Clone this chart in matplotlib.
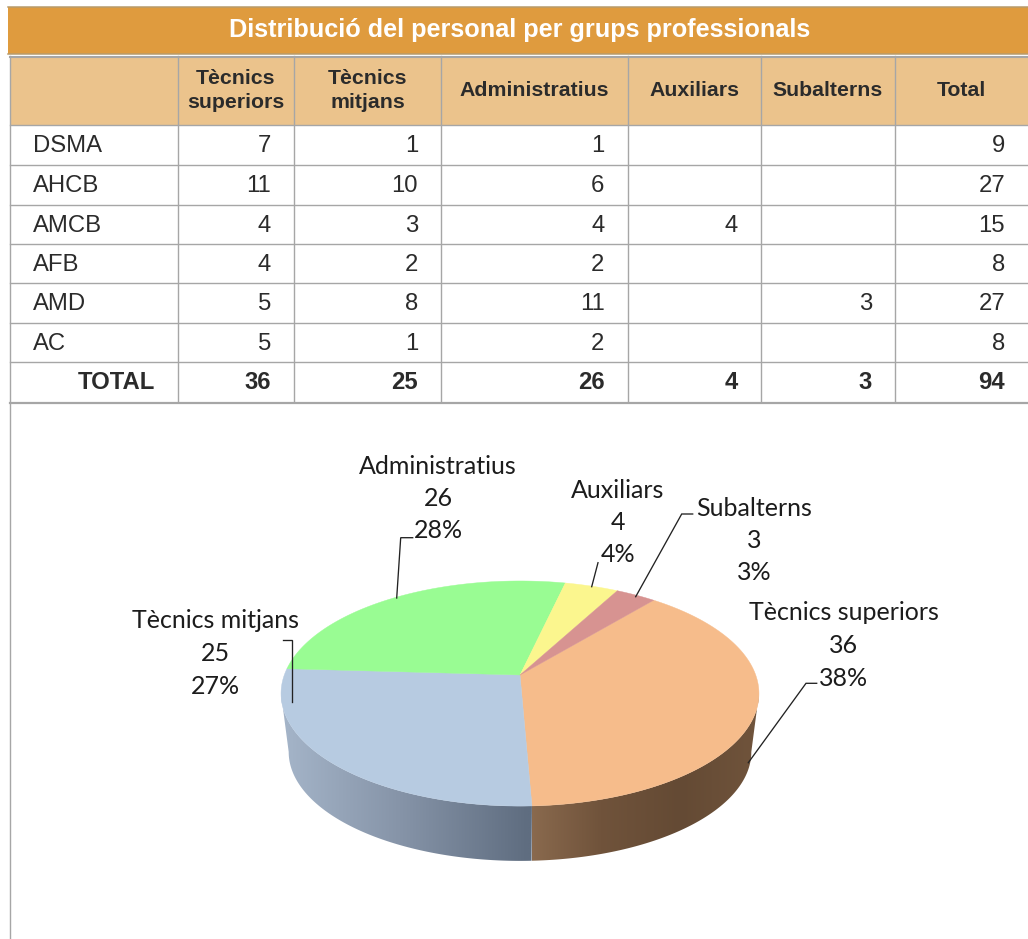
#!/usr/bin/env python3
import numpy as np
import matplotlib
matplotlib.use('Agg')
import matplotlib.pyplot as plt
from matplotlib.patches import Polygon

plt.rcParams['font.family'] = ['Liberation Sans', 'DejaVu Sans']

# table data
title = 'Distribució del personal per grups professionals'
headers = ['Tècnics\nsuperiors', 'Tècnics\nmitjans', 'Administratius', 'Auxiliars', 'Subalterns', 'Total']
row_names = ['DSMA', 'AHCB', 'AMCB', 'AFB', 'AMD', 'AC']
tec_sup = [7, 11, 4, 4, 5, 5]
tec_mit = [1, 10, 3, 2, 8, 1]
admin = [1, 6, 4, 2, 11, 2]
auxil = [None, None, 4, None, None, None]
subal = [None, None, None, None, 3, None]
total_col = [9, 27, 15, 8, 27, 8]
total_row = [36, 25, 26, 4, 3, 94]

# pie data, clockwise from the start angle
pie_names = ['Tècnics superiors', 'Tècnics mitjans', 'Administratius', 'Auxiliars', 'Subalterns']
pie_values = [36, 25, 26, 4, 3]
pie_colors = ['#f6bc8b', '#b7cbe1', '#99fc93', '#fbf68e', '#d79391']

# layout, in pixels of the 1028x939 image
col_x = [10, 178, 294, 441, 627.5, 761, 895, 1028]
row_y = [125, 165, 204.5, 244, 283, 323, 362, 402]
grid = '#a6a6a6'
ink = '#2b2b2b'

fig = plt.figure(figsize=(10.28, 9.39), dpi=100)
ax = fig.add_axes([0, 0, 1, 1])
ax.set_xlim(0, 1028)
ax.set_ylim(939, 0)
ax.axis('off')

# title and header bands
ax.fill_between([8, 1028], 7, 54, color='#df9b3e', lw=0)
ax.plot([8, 1028], [7, 7], color='#b89b6b', lw=1.1)
ax.plot([8, 1028], [54, 54], color='#b89b6b', lw=1.1)
ax.fill_between([10, 1028], 56, 125, color='#ebc38c', lw=0)
ax.text(519.5, 29.5, title, color='white', fontsize=18.2, fontweight='bold', ha='center', va='center')

# grid lines
ax.plot([10, 1028], [56.5, 56.5], color=grid, lw=1.5)
for y in row_y[:-1]:
    ax.plot([10, 1028], [y, y], color=grid, lw=1.0)
ax.plot([10, 1028], [402.5, 402.5], color=grid, lw=1.6)
ax.plot([9.7, 9.7], [56, 939], color=grid, lw=1.0)
for x in col_x[1:-1]:
    ax.plot([x, x], [56, 402], color=grid, lw=1.0)

# table text
for i, h in enumerate(headers):
    ax.text((col_x[i + 1] + col_x[i + 2]) / 2, 90.5, h, color=ink, fontsize=15.3, fontweight='bold',
            ha='center', va='center', linespacing=1.36)

columns = [tec_sup, tec_mit, admin, auxil, subal, total_col]
for r, name in enumerate(row_names):
    yc = (row_y[r] + row_y[r + 1]) / 2 - 1.2
    ax.text(33, yc, name, color=ink, fontsize=17.2, ha='left', va='center_baseline')
    for c, col in enumerate(columns):
        if col[r] is not None:
            ax.text(col_x[c + 2] - 23, yc, str(col[r]), color=ink, fontsize=17.2, ha='right', va='center_baseline')

yc = (row_y[-2] + row_y[-1]) / 2 - 1.7
ax.text(155, yc, 'TOTAL', color=ink, fontsize=17.2, fontweight='bold', ha='right', va='center_baseline')
for c, v in enumerate(total_row):
    ax.text(col_x[c + 2] - 23, yc, str(v), color=ink, fontsize=17.2, fontweight='bold', ha='right', va='center_baseline')

# pie in perspective: the circle goes through a small projective squash
cx, cy = 520, 675
sx, sy = 235.7, 109.5
k = 0.1646
start = 50.3
wall_scale = 0.968
wall_drop = 59


def project(t, s=1.0, dy=0.0):
    a = np.radians(t)
    w = 1 + k * np.sin(a)
    return cx + s * sx * np.cos(a) / w, cy - s * sy * np.sin(a) / w + dy


total = sum(pie_values)
edges = start - np.concatenate([[0], np.cumsum(pie_values)]) * 360 / total
# the ellipse is widest here, so the wall outline ends on these angles
widest = np.degrees(np.arcsin(k))


# side wall, a horizontal gradient clipped to the wall outline
def wall(t0, t1, stops_x, stops_rgb):
    ts = np.linspace(t0, t1, 200)
    xt, yt = project(ts)
    xb, yb = project(ts[::-1], wall_scale, wall_drop)
    outline = Polygon(np.c_[np.r_[xt, xb], np.r_[yt, yb]], closed=True, facecolor='none', edgecolor='none',
                      transform=ax.transData)
    ax.add_patch(outline)
    x0, x1 = min(xt.min(), xb.min()), max(xt.max(), xb.max())
    y0, y1 = min(yt.min(), yb.min()), max(yt.max(), yb.max())
    xs = np.linspace(x0, x1, 256)
    grad = np.stack([np.interp(xs, stops_x, [s[i] for s in stops_rgb]) / 255 for i in range(3)], axis=-1)
    im = ax.imshow(grad[np.newaxis, :, :], extent=[x0, x1, y1, y0], aspect='auto', interpolation='bilinear')
    im.set_clip_path(outline)


wall(-widest, edges[1], [530, 600, 680, 750],
     [(138, 106, 78), (112, 83, 59), (100, 74, 52), (111, 83, 59)])
wall(edges[1], -180 + widest, [285, 400, 528],
     [(164, 180, 200), (134, 148, 168), (95, 109, 128)])
ax.set_xlim(0, 1028)
ax.set_ylim(939, 0)

# top face
for i, color in enumerate(pie_colors):
    ts = np.linspace(edges[i], edges[i + 1], 200)
    xs, ys = project(ts)
    ax.fill(np.r_[cx, xs], np.r_[cy, ys], color=color, lw=0.3, zorder=2)

# labels
label_pos = [(844, 645.5), (215, 653.5), (438, 498.5), (618, 522.5), (754, 540.5)]
for name, v, (lx, ly) in zip(pie_names, pie_values, label_pos):
    pct = round(100 * v / total)
    ax.text(lx, ly, f'{name}\n{v}\n{pct}%', family=['Lato', 'DejaVu Sans'], fontsize=18, color='#1c1c1c',
            ha='center', va='center', linespacing=1.5, multialignment='center', zorder=4)

# leader lines
leaders = [
    ([748.3, 806, 816.7], [762.7, 683.3, 683.3]),
    ([292.3, 292.3, 282.7], [701.7, 640, 640]),
    ([396.7, 400.7, 412.7], [598, 537.7, 537.7]),
    ([591.7, 598], [586.7, 562.7]),
    ([635.7, 681.7, 692.7], [596.7, 514, 514]),
]
for lx, ly in leaders:
    ax.plot(lx, ly, color='#222222', lw=0.95, solid_joinstyle='miter', zorder=3)

plt.savefig('out.png', dpi=100)
